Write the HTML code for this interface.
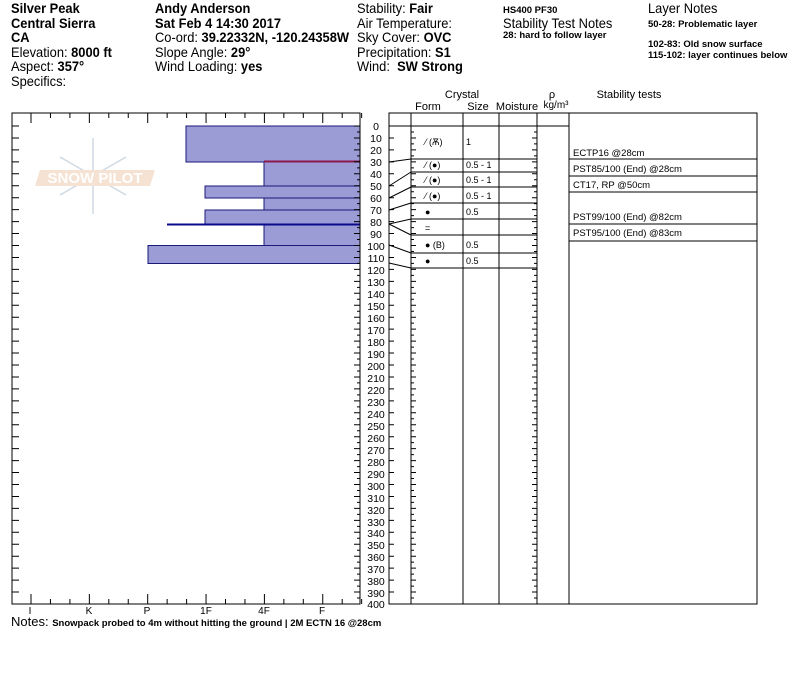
<!DOCTYPE html>
<html><head><meta charset="utf-8"><style>
body{margin:0;background:#fff;width:800px;height:676px;overflow:hidden;position:relative;font-family:"Liberation Sans",sans-serif;}
.h{position:absolute;font-size:14px;line-height:14.6px;color:#000;white-space:nowrap;transform:scaleX(0.92);transform-origin:0 0}
.s{font-family:"Liberation Sans",sans-serif;font-size:9.5px;font-weight:bold}
svg{position:absolute;left:0;top:0}
</style></head><body>
<div class="h" style="left:11px;top:1px"><b>Silver Peak</b><br><b>Central Sierra</b><br><b>CA</b><br>Elevation: <b>8000 ft</b><br>Aspect: <b>357°</b><br>Specifics:</div>
<div class="h" style="left:155px;top:1px"><b>Andy Anderson</b><br><b>Sat Feb 4 14:30 2017</b><br>Co-ord: <b>39.22332N, -120.24358W</b><br>Slope Angle: <b>29°</b><br>Wind Loading: <b>yes</b></div>
<div class="h" style="left:357px;top:1px">Stability: <b>Fair</b><br>Air Temperature:<br>Sky Cover: <b>OVC</b><br>Precipitation: <b>S1</b><br>Wind:&nbsp; <b>SW Strong</b></div>
<div class="h s" style="left:503px;top:4px;transform:none;font-size:9.5px">HS400 PF30</div>
<div class="h" style="left:503px;top:16px">Stability Test Notes</div>
<div class="h s" style="left:503px;top:29px;transform:none;font-size:9.5px">28: hard to follow layer</div>
<div class="h" style="left:648px;top:1px">Layer Notes</div>
<div class="h s" style="left:648px;top:18px;transform:none;font-size:9.5px">50-28: Problematic layer</div>
<div class="h s" style="left:648px;top:39px;line-height:11px;transform:none;font-size:9.5px">102-83: Old snow surface<br>115-102: layer continues below</div>
<div class="h" style="left:11px;top:615px;transform:none;font-size:13px;line-height:13px">Notes: <span class="s">Snowpack probed to 4m without hitting the ground | 2M ECTN 16 @28cm</span></div>
<svg width="800" height="676" id="sv" font-family="Liberation Sans,sans-serif" font-size="10">
<g fill="#9b9bd6" stroke="#1a1a7a" stroke-width="1">
<rect x="186" y="126" width="174" height="36"/>
<rect x="264" y="162" width="96" height="24"/>
<rect x="205" y="186" width="155" height="12"/>
<rect x="264" y="198" width="96" height="12"/>
<rect x="205" y="210" width="155" height="14"/>
<rect x="264" y="224" width="96" height="21.5"/>
<rect x="148" y="245.5" width="212" height="18"/>
</g>
<line x1="264" y1="161.5" x2="360" y2="161.5" stroke="#8a1a4a" stroke-width="2"/>
<line x1="167" y1="224.5" x2="360" y2="224.5" stroke="#0a0a8a" stroke-width="2"/>
<g opacity="0.4"><g stroke="#8aa0b8" stroke-width="1.5"><line x1="93" y1="138" x2="93" y2="214"/><line x1="60" y1="157" x2="126" y2="195"/><line x1="60" y1="195" x2="126" y2="157"/></g><polygon points="40,170 155,170 150,186 35,186" fill="#e8b890"/><text x="95" y="183" fill="#fff" font-size="15" text-anchor="middle" font-weight="bold">SNOW PILOT</text></g>
<rect x="12" y="113" width="348" height="491" fill="none" stroke="#000"/>
<g stroke="#000" id="tk"></g>
<g font-size="10" text-anchor="middle"><text x="30" y="614">I</text><text x="89" y="614">K</text><text x="147" y="614">P</text><text x="206" y="614">1F</text><text x="264" y="614">4F</text><text x="322" y="614">F</text></g>
<g font-size="10.5" text-anchor="middle">
<text x="376" y="130">0</text><text x="376" y="142">10</text><text x="376" y="154">20</text><text x="376" y="166">30</text><text x="376" y="178">40</text><text x="376" y="190">50</text><text x="376" y="202">60</text><text x="376" y="214">70</text><text x="376" y="226">80</text><text x="376" y="238">90</text><text x="376" y="250">100</text><text x="376" y="262">110</text><text x="376" y="274">120</text><text x="376" y="286">130</text><text x="376" y="298">140</text><text x="376" y="310">150</text><text x="376" y="322">160</text><text x="376" y="334">170</text><text x="376" y="346">180</text><text x="376" y="358">190</text><text x="376" y="370">200</text><text x="376" y="382">210</text><text x="376" y="394">220</text><text x="376" y="406">230</text><text x="376" y="418">240</text><text x="376" y="430">250</text><text x="376" y="442">260</text><text x="376" y="454">270</text><text x="376" y="466">280</text><text x="376" y="478">290</text><text x="376" y="490">300</text><text x="376" y="502">310</text><text x="376" y="514">320</text><text x="376" y="526">330</text><text x="376" y="537">340</text><text x="376" y="549">350</text><text x="376" y="561">360</text><text x="376" y="573">370</text><text x="376" y="585">380</text><text x="376" y="597">390</text><text x="376" y="608">400</text>
</g>
<g fill="none" stroke="#000">
<rect x="389" y="113" width="368" height="491"/>
<line x1="389" y1="126" x2="569" y2="126"/>
<line x1="411" y1="113" x2="411" y2="604"/><line x1="463" y1="113" x2="463" y2="604"/><line x1="499" y1="113" x2="499" y2="604"/><line x1="537" y1="113" x2="537" y2="604"/><line x1="569" y1="113" x2="569" y2="604"/>
<path d="M411 159H537M411 172H537M411 187H537M411 203H537M411 219H537M411 235H537M411 253H537M411 268H537"/>
<path d="M569 159H757M569 176H757M569 192H757M569 224H757M569 241H757"/>
<path d="M389 162L411 159M389 186L411 172M389 198L411 187M389 210L411 203M389 224L411 219M389 224L411 235M389 245L411 253M389 263L411 268"/>
</g>
<g font-size="11" text-anchor="middle"><text x="462" y="98">Crystal</text><text x="428" y="110">Form</text><text x="478" y="110">Size</text><text x="517" y="110">Moisture</text><text x="552" y="98">ρ</text><text x="556" y="108" font-size="10">kg/m³</text><text x="629" y="98">Stability tests</text></g>
<g font-size="9"><text x="425" y="145">⁄ (Ѫ)</text><text x="466" y="145">1</text>
<text x="425" y="168">⁄ (●)</text><text x="466" y="168">0.5 - 1</text>
<text x="425" y="183">⁄ (●)</text><text x="466" y="183">0.5 - 1</text>
<text x="425" y="199">⁄ (●)</text><text x="466" y="199">0.5 - 1</text>
<text x="425" y="215">●</text><text x="466" y="215">0.5</text>
<text x="425" y="231">=</text>
<text x="425" y="248">● (B)</text><text x="466" y="248">0.5</text>
<text x="425" y="264">●</text><text x="466" y="264">0.5</text></g>
<g font-size="9.5"><text x="573" y="156">ECTP16 @28cm</text><text x="573" y="172">PST85/100 (End) @28cm</text><text x="573" y="188">CT17, RP @50cm</text><text x="573" y="220">PST99/100 (End) @82cm</text><text x="573" y="236">PST95/100 (End) @83cm</text></g>
</svg>
<script>
var d="";
for(var i=0;i<=17;i++){var x=31+i*19.45;var L=(i%3==0)?10:5;d+="M"+x+" 113v"+L+"M"+x+" 604v-"+L;}
for(var c=0;c<=400;c+=10){var y=126+c*1.195;d+="M12 "+y+"h7M360 "+y+"h-6M389 "+y+"h5M411 "+y+"h5M537 "+y+"h-5";}
for(var c=5;c<400;c+=10){var y=126+c*1.195;d+="M360 "+y+"h-3M411 "+y+"h3M537 "+y+"h-3";}
document.getElementById("tk").innerHTML='<path d="'+d+'"/>';
</script>
</body></html>
